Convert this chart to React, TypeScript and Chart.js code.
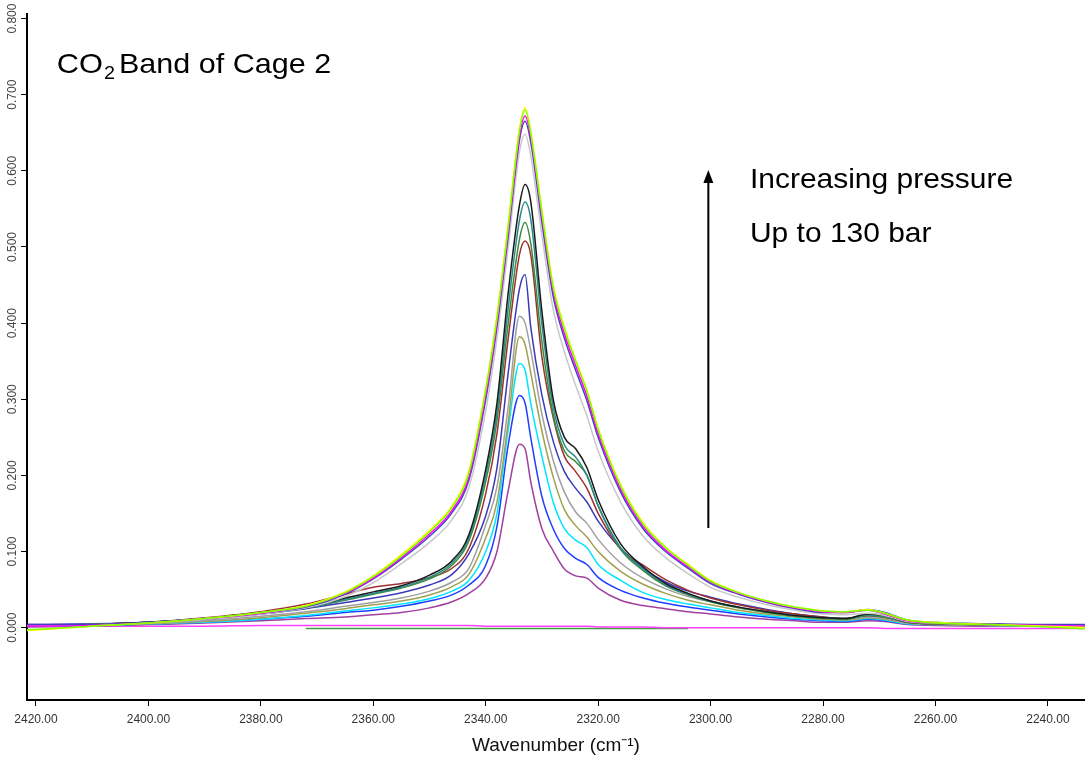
import React, { useEffect, useRef } from "react";
import { Chart, registerables } from "chart.js";

Chart.register(...registerables);

const FAMILY = '"Liberation Sans", Arial, Helvetica, sans-serif';

// Wavenumber grid (cm^-1)
const wavenumbers = [2422, 2410, 2400, 2390, 2380, 2372, 2365, 2360, 2355, 2350, 2346, 2343, 2340, 2338, 2336, 2334, 2333, 2332, 2330, 2328, 2326, 2324, 2322, 2320, 2316, 2312, 2308, 2304, 2300, 2295, 2290, 2285, 2280, 2276, 2272, 2269, 2265, 2260, 2250, 2240, 2232];

// Absorbance series (increasing pressure)
const yellowSeries = [-0.004, 0.002, 0.006, 0.012, 0.020, 0.029, 0.047, 0.068, 0.096, 0.128, 0.160, 0.206, 0.315, 0.410, 0.530, 0.655, 0.683, 0.652, 0.548, 0.450, 0.395, 0.352, 0.312, 0.262, 0.188, 0.138, 0.106, 0.083, 0.062, 0.046, 0.035, 0.027, 0.022, 0.021, 0.024, 0.019, 0.010, 0.007, 0.004, 0.002, 0.000];
const limeSeries = [-0.003, 0.002, 0.006, 0.012, 0.020, 0.028, 0.046, 0.067, 0.094, 0.126, 0.158, 0.203, 0.312, 0.407, 0.527, 0.652, 0.680, 0.650, 0.545, 0.447, 0.392, 0.350, 0.310, 0.260, 0.186, 0.136, 0.105, 0.082, 0.061, 0.046, 0.035, 0.027, 0.022, 0.021, 0.023, 0.019, 0.010, 0.006, 0.004, 0.001, -0.002];
const magentaSeries = [0.002, 0.003, 0.006, 0.012, 0.019, 0.028, 0.045, 0.065, 0.092, 0.123, 0.154, 0.198, 0.305, 0.400, 0.520, 0.645, 0.672, 0.645, 0.540, 0.442, 0.386, 0.344, 0.304, 0.255, 0.182, 0.133, 0.102, 0.080, 0.060, 0.045, 0.034, 0.026, 0.021, 0.020, 0.023, 0.018, 0.009, 0.006, 0.004, 0.003, 0.002];
const violetSeries = [0.004, 0.004, 0.007, 0.012, 0.019, 0.027, 0.044, 0.064, 0.090, 0.120, 0.151, 0.194, 0.300, 0.395, 0.515, 0.640, 0.665, 0.638, 0.532, 0.435, 0.380, 0.338, 0.298, 0.250, 0.178, 0.130, 0.100, 0.078, 0.058, 0.044, 0.033, 0.025, 0.020, 0.020, 0.024, 0.020, 0.010, 0.007, 0.005, 0.004, 0.004];
const lightGraySeries = [0.003, 0.004, 0.006, 0.011, 0.018, 0.026, 0.041, 0.059, 0.084, 0.112, 0.142, 0.184, 0.285, 0.380, 0.500, 0.625, 0.648, 0.620, 0.515, 0.418, 0.362, 0.318, 0.278, 0.232, 0.165, 0.120, 0.092, 0.071, 0.053, 0.040, 0.030, 0.023, 0.018, 0.017, 0.019, 0.016, 0.008, 0.006, 0.004, 0.003, 0.003];
const blackSeries = [0.003, 0.004, 0.007, 0.012, 0.020, 0.027, 0.039, 0.047, 0.055, 0.069, 0.088, 0.122, 0.208, 0.295, 0.440, 0.555, 0.582, 0.560, 0.415, 0.300, 0.250, 0.235, 0.210, 0.168, 0.110, 0.080, 0.058, 0.045, 0.035, 0.027, 0.021, 0.016, 0.013, 0.012, 0.018, 0.016, 0.008, 0.006, 0.004, 0.003, 0.002];
const tealSeries = [0.003, 0.004, 0.007, 0.012, 0.019, 0.026, 0.037, 0.045, 0.053, 0.066, 0.085, 0.118, 0.200, 0.282, 0.420, 0.535, 0.559, 0.537, 0.398, 0.290, 0.240, 0.224, 0.200, 0.160, 0.105, 0.077, 0.056, 0.044, 0.035, 0.027, 0.021, 0.016, 0.013, 0.012, 0.017, 0.015, 0.008, 0.006, 0.004, 0.003, 0.003];
const greenSeries = [0.003, 0.004, 0.007, 0.012, 0.019, 0.026, 0.036, 0.044, 0.052, 0.064, 0.082, 0.114, 0.192, 0.272, 0.400, 0.510, 0.532, 0.505, 0.375, 0.280, 0.232, 0.218, 0.200, 0.160, 0.103, 0.075, 0.055, 0.043, 0.034, 0.026, 0.020, 0.015, 0.012, 0.011, 0.016, 0.014, 0.007, 0.005, 0.004, 0.003, 0.003];
const redSeries = [0.002, 0.004, 0.007, 0.013, 0.021, 0.031, 0.044, 0.053, 0.058, 0.066, 0.078, 0.104, 0.176, 0.255, 0.380, 0.490, 0.508, 0.490, 0.355, 0.276, 0.225, 0.205, 0.183, 0.150, 0.103, 0.082, 0.063, 0.049, 0.039, 0.030, 0.023, 0.018, 0.014, 0.012, 0.016, 0.014, 0.007, 0.005, 0.004, 0.003, 0.002];
const blueSeries = [0.004, 0.005, 0.007, 0.011, 0.018, 0.025, 0.033, 0.039, 0.046, 0.056, 0.070, 0.097, 0.147, 0.210, 0.335, 0.445, 0.464, 0.395, 0.305, 0.245, 0.205, 0.183, 0.165, 0.140, 0.104, 0.078, 0.060, 0.048, 0.040, 0.031, 0.024, 0.018, 0.014, 0.012, 0.016, 0.014, 0.007, 0.005, 0.004, 0.003, 0.003];
const graySeries = [0.003, 0.004, 0.006, 0.009, 0.015, 0.021, 0.028, 0.033, 0.039, 0.048, 0.060, 0.078, 0.135, 0.185, 0.290, 0.409, 0.400, 0.365, 0.280, 0.220, 0.178, 0.152, 0.137, 0.116, 0.085, 0.065, 0.051, 0.041, 0.034, 0.026, 0.020, 0.015, 0.012, 0.011, 0.014, 0.012, 0.006, 0.005, 0.003, 0.003, 0.002];
const oliveSeries = [0.003, 0.004, 0.005, 0.008, 0.013, 0.019, 0.025, 0.030, 0.035, 0.043, 0.054, 0.070, 0.118, 0.165, 0.270, 0.382, 0.372, 0.335, 0.258, 0.198, 0.155, 0.134, 0.119, 0.100, 0.074, 0.057, 0.045, 0.036, 0.030, 0.023, 0.018, 0.014, 0.011, 0.010, 0.013, 0.011, 0.006, 0.004, 0.003, 0.002, 0.002];
const cyanSeries = [0.002, 0.003, 0.005, 0.007, 0.011, 0.016, 0.022, 0.026, 0.031, 0.038, 0.048, 0.062, 0.100, 0.150, 0.260, 0.347, 0.338, 0.295, 0.225, 0.165, 0.130, 0.115, 0.105, 0.083, 0.062, 0.046, 0.037, 0.031, 0.026, 0.020, 0.016, 0.012, 0.010, 0.009, 0.012, 0.010, 0.005, 0.004, 0.003, 0.002, 0.002];
const royalBlueSeries = [0.002, 0.003, 0.005, 0.007, 0.011, 0.015, 0.020, 0.023, 0.028, 0.035, 0.043, 0.056, 0.082, 0.133, 0.240, 0.305, 0.295, 0.250, 0.172, 0.130, 0.104, 0.091, 0.083, 0.066, 0.049, 0.039, 0.032, 0.027, 0.023, 0.018, 0.014, 0.011, 0.009, 0.008, 0.011, 0.009, 0.005, 0.004, 0.003, 0.002, 0.002];
const purpleSeries = [0.001, 0.002, 0.004, 0.006, 0.009, 0.012, 0.014, 0.017, 0.020, 0.026, 0.034, 0.045, 0.065, 0.100, 0.180, 0.241, 0.235, 0.192, 0.130, 0.101, 0.077, 0.068, 0.065, 0.052, 0.036, 0.029, 0.025, 0.021, 0.018, 0.014, 0.011, 0.009, 0.007, 0.007, 0.009, 0.008, 0.004, 0.003, 0.002, 0.002, 0.001];
const flatMagentaSeries = [0.002, 0.002, 0.002, 0.002, 0.003, 0.003, 0.003, 0.003, 0.003, 0.003, 0.003, 0.003, 0.002, 0.002, 0.002, 0.002, 0.002, 0.002, 0.002, 0.002, 0.002, 0.002, 0.002, 0.001, 0.001, 0.001, 0.000, 0.000, 0.000, 0.000, 0.000, 0.000, 0.000, 0.000, 0.000, -0.001, -0.001, -0.001, -0.001, -0.001, -0.001];
const flatGreenSeries = [null, null, null, null, null, -0.001, -0.001, -0.001, -0.001, -0.001, -0.001, -0.001, -0.001, -0.001, -0.001, -0.001, -0.001, -0.001, -0.001, -0.001, -0.001, -0.001, -0.001, -0.001, -0.001, -0.001, -0.001, -0.001, null, null, null, null, null, null, null, null, null, null, null, null, null];

const seriesValues = [limeSeries, yellowSeries, magentaSeries, violetSeries, lightGraySeries, blackSeries, tealSeries, greenSeries, redSeries, blueSeries, graySeries, oliveSeries, cyanSeries, royalBlueSeries, purpleSeries, flatMagentaSeries, flatGreenSeries];
const seriesColors = ["#80ff00", "#ffff00", "#ff00ff", "#4040c0", "#c8c8c8", "#1a1a1a", "#2a8a8a", "#3c8c3c", "#a03030", "#3a3ab8", "#a0a0a0", "#a0a050", "#00e5ff", "#1f3fff", "#a040a0", "#ff40ff", "#40a040"];

const xTickValues = [2240, 2260, 2280, 2300, 2320, 2340, 2360, 2380, 2400, 2420];
const yTickValues = [0, 0.1, 0.2, 0.3, 0.4, 0.5, 0.6, 0.7, 0.8];

// Annotation anchors (data units)
const arrowX = 2300.4;
const arrowFrom = 0.131;
const arrowTo = 0.601;
const labelX = 2293.0;
const labelLine1Y = 0.578;
const labelLine2Y = 0.507;
const titleX = 2416.3;
const titleY = 0.728;

const annotationPlugin = {
  id: "annotations",
  afterDraw(chart: any) {
    const { ctx, scales } = chart;
    const xs = scales.x;
    const ys = scales.y;
    ctx.save();
    // arrow
    const ax = xs.getPixelForValue(arrowX);
    const ay0 = ys.getPixelForValue(arrowFrom);
    const ay1 = ys.getPixelForValue(arrowTo);
    ctx.strokeStyle = "#000";
    ctx.fillStyle = "#000";
    ctx.lineWidth = 2;
    ctx.beginPath();
    ctx.moveTo(ax, ay0);
    ctx.lineTo(ax, ay1 + 10);
    ctx.stroke();
    ctx.beginPath();
    ctx.moveTo(ax, ay1);
    ctx.lineTo(ax - 5, ay1 + 13);
    ctx.lineTo(ax + 5, ay1 + 13);
    ctx.closePath();
    ctx.fill();

    const drawStretched = (text: string, x: number, y: number, size: number, sx: number) => {
      ctx.save();
      ctx.translate(x, y);
      ctx.scale(sx, 1);
      ctx.font = `${size}px ${FAMILY}`;
      ctx.textAlign = "left";
      ctx.textBaseline = "alphabetic";
      ctx.fillText(text, 0, 0);
      const w = ctx.measureText(text).width * sx;
      ctx.restore();
      return w;
    };

    const lx = xs.getPixelForValue(labelX);
    drawStretched("Increasing pressure", lx, ys.getPixelForValue(labelLine1Y), 28, 1.07);
    drawStretched("Up to 130 bar", lx, ys.getPixelForValue(labelLine2Y), 28, 1.07);

    // title with subscript
    let tx = xs.getPixelForValue(titleX);
    const ty = ys.getPixelForValue(titleY);
    tx += drawStretched("CO", tx, ty, 28, 1.1);
    tx += 1;
    tx += drawStretched("2", tx, ty + 6, 18, 1.1);
    tx += 4;
    drawStretched("Band of Cage 2", tx, ty, 28, 1.09);
    ctx.restore();
  },
};

export default function App() {
  const canvasRef = useRef<HTMLCanvasElement | null>(null);

  useEffect(() => {
    document.body.style.margin = "0";
    const canvas = canvasRef.current;
    if (!canvas) return;
    const datasets = seriesValues.map((vals, i) => ({
      label: `Series ${i + 1}`,
      data: wavenumbers.map((w, j) => ({ x: w, y: vals[j] })),
      borderColor: seriesColors[i],
      backgroundColor: seriesColors[i],
      borderWidth: 1.5,
      pointRadius: 0,
      fill: false,
      cubicInterpolationMode: "monotone" as const,
      spanGaps: false,
    }));

    const chart = new Chart(canvas, {
      type: "line",
      data: { datasets },
      options: {
        animation: false,
        responsive: false,
        devicePixelRatio: 1,
        layout: { padding: { top: 14, right: 0, left: 0, bottom: 0 } },
        plugins: {
          legend: { display: false },
          tooltip: { enabled: false },
        },
        scales: {
          x: {
            type: "linear",
            reverse: true,
            min: 2233.4,
            max: 2421.6,
            afterBuildTicks: (s: any) => {
              s.ticks = xTickValues.map((v) => ({ value: v }));
            },
            afterFit: (s: any) => {
              s.height = 60;
            },
            grid: {
              display: true,
              drawOnChartArea: false,
              drawTicks: true,
              tickLength: 6,
              tickColor: "#000",
              tickWidth: 1,
            },
            border: { display: true, color: "#000", width: 2 },
            ticks: {
              autoSkip: false,
              maxRotation: 0,
              minRotation: 0,
              padding: 6,
              color: "#333",
              font: { family: FAMILY, size: 12 },
              callback: (v: any) => Number(v).toFixed(2),
            },
            title: {
              display: true,
              text: "Wavenumber (cm\u207B\u00B9)",
              color: "#111",
              font: { family: FAMILY, size: 19 },
              padding: { top: 0, bottom: 3 },
            },
          },
          y: {
            type: "linear",
            min: -0.095,
            max: 0.806,
            afterBuildTicks: (s: any) => {
              s.ticks = yTickValues.map((v) => ({ value: v }));
            },
            afterFit: (s: any) => {
              s.width = 27;
            },
            grid: {
              display: true,
              drawOnChartArea: false,
              drawTicks: true,
              tickLength: 6,
              tickColor: "#000",
              tickWidth: 1,
            },
            border: { display: true, color: "#000", width: 2 },
            ticks: {
              autoSkip: false,
              minRotation: 90,
              maxRotation: 90,
              crossAlign: "center",
              padding: -7,
              color: "#444",
              font: { family: FAMILY, size: 12 },
              callback: (v: any) => Number(v).toFixed(3),
            },
          },
        },
      },
      plugins: [annotationPlugin],
    });
    return () => chart.destroy();
  }, []);

  return (
    <div style={{ position: "absolute", left: 0, top: 0, width: 1085, height: 760, background: "#fff" }}>
      <canvas ref={canvasRef} width={1085} height={760} style={{ width: 1085, height: 760, display: "block" }} />
    </div>
  );
}
